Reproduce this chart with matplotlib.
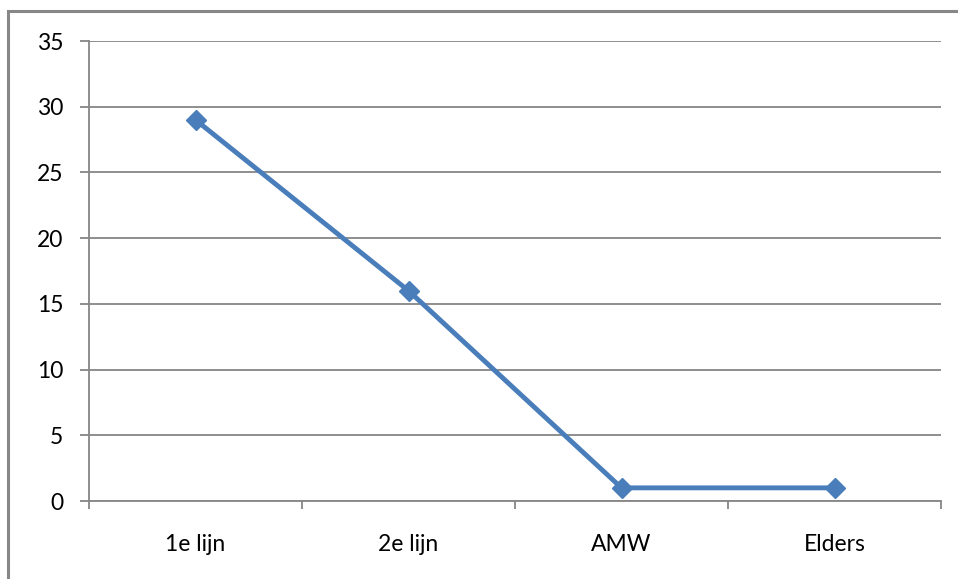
import numpy as np
import matplotlib
matplotlib.use('Agg')
from matplotlib import pyplot as plt
from matplotlib.patches import Rectangle

categories = ['1e lijn', '2e lijn', 'AMW', 'Elders']
values = [29, 16, 1, 1]
yticks = [0, 5, 10, 15, 20, 25, 30, 35]

line_color = '#4A7EBB'
grid_color = '#868686'

plt.rcParams['font.family'] = ['Lato', 'DejaVu Sans']

fig = plt.figure(figsize=(9.58, 5.79), dpi=100)
ax = fig.add_axes([89 / 958, 78 / 579, 852 / 958, 460 / 579])

x = np.arange(len(categories))
ax.plot(x, values, color=line_color, linewidth=3.5, marker='D', markersize=10,
        markerfacecolor=line_color, markeredgecolor=line_color, zorder=3)

ax.set_xlim(-0.5, len(categories) - 0.5)
ax.set_ylim(0, 35)
ax.set_yticks(yticks)
ax.set_xticks(x)
ax.set_xticklabels(categories)
ax.set_xticks(np.arange(-0.5, len(categories), 1), minor=True)

ax.yaxis.grid(True, color=grid_color, linewidth=1.3)
ax.set_axisbelow(True)

for s in ['top', 'right']:
    ax.spines[s].set_visible(False)
for s in ['left', 'bottom']:
    ax.spines[s].set_color(grid_color)
    ax.spines[s].set_linewidth(1.3)

ax.tick_params(axis='y', which='major', length=6.5, width=1.3, color=grid_color,
               pad=12, labelsize=16.5, labelcolor='#000000')
ax.tick_params(axis='x', which='major', length=0, pad=24, labelsize=16.5)
ax.tick_params(axis='x', which='minor', length=6, width=1.3, color=grid_color)

# outer chart border (Excel style)
fig.patches.append(Rectangle((8 / 958, -0.05), 1.1, (579 - 11) / 579 + 0.05,
                             transform=fig.transFigure, fill=False,
                             edgecolor='#878787', linewidth=2.2, figure=fig))

fig.savefig('out.png', dpi=100)
